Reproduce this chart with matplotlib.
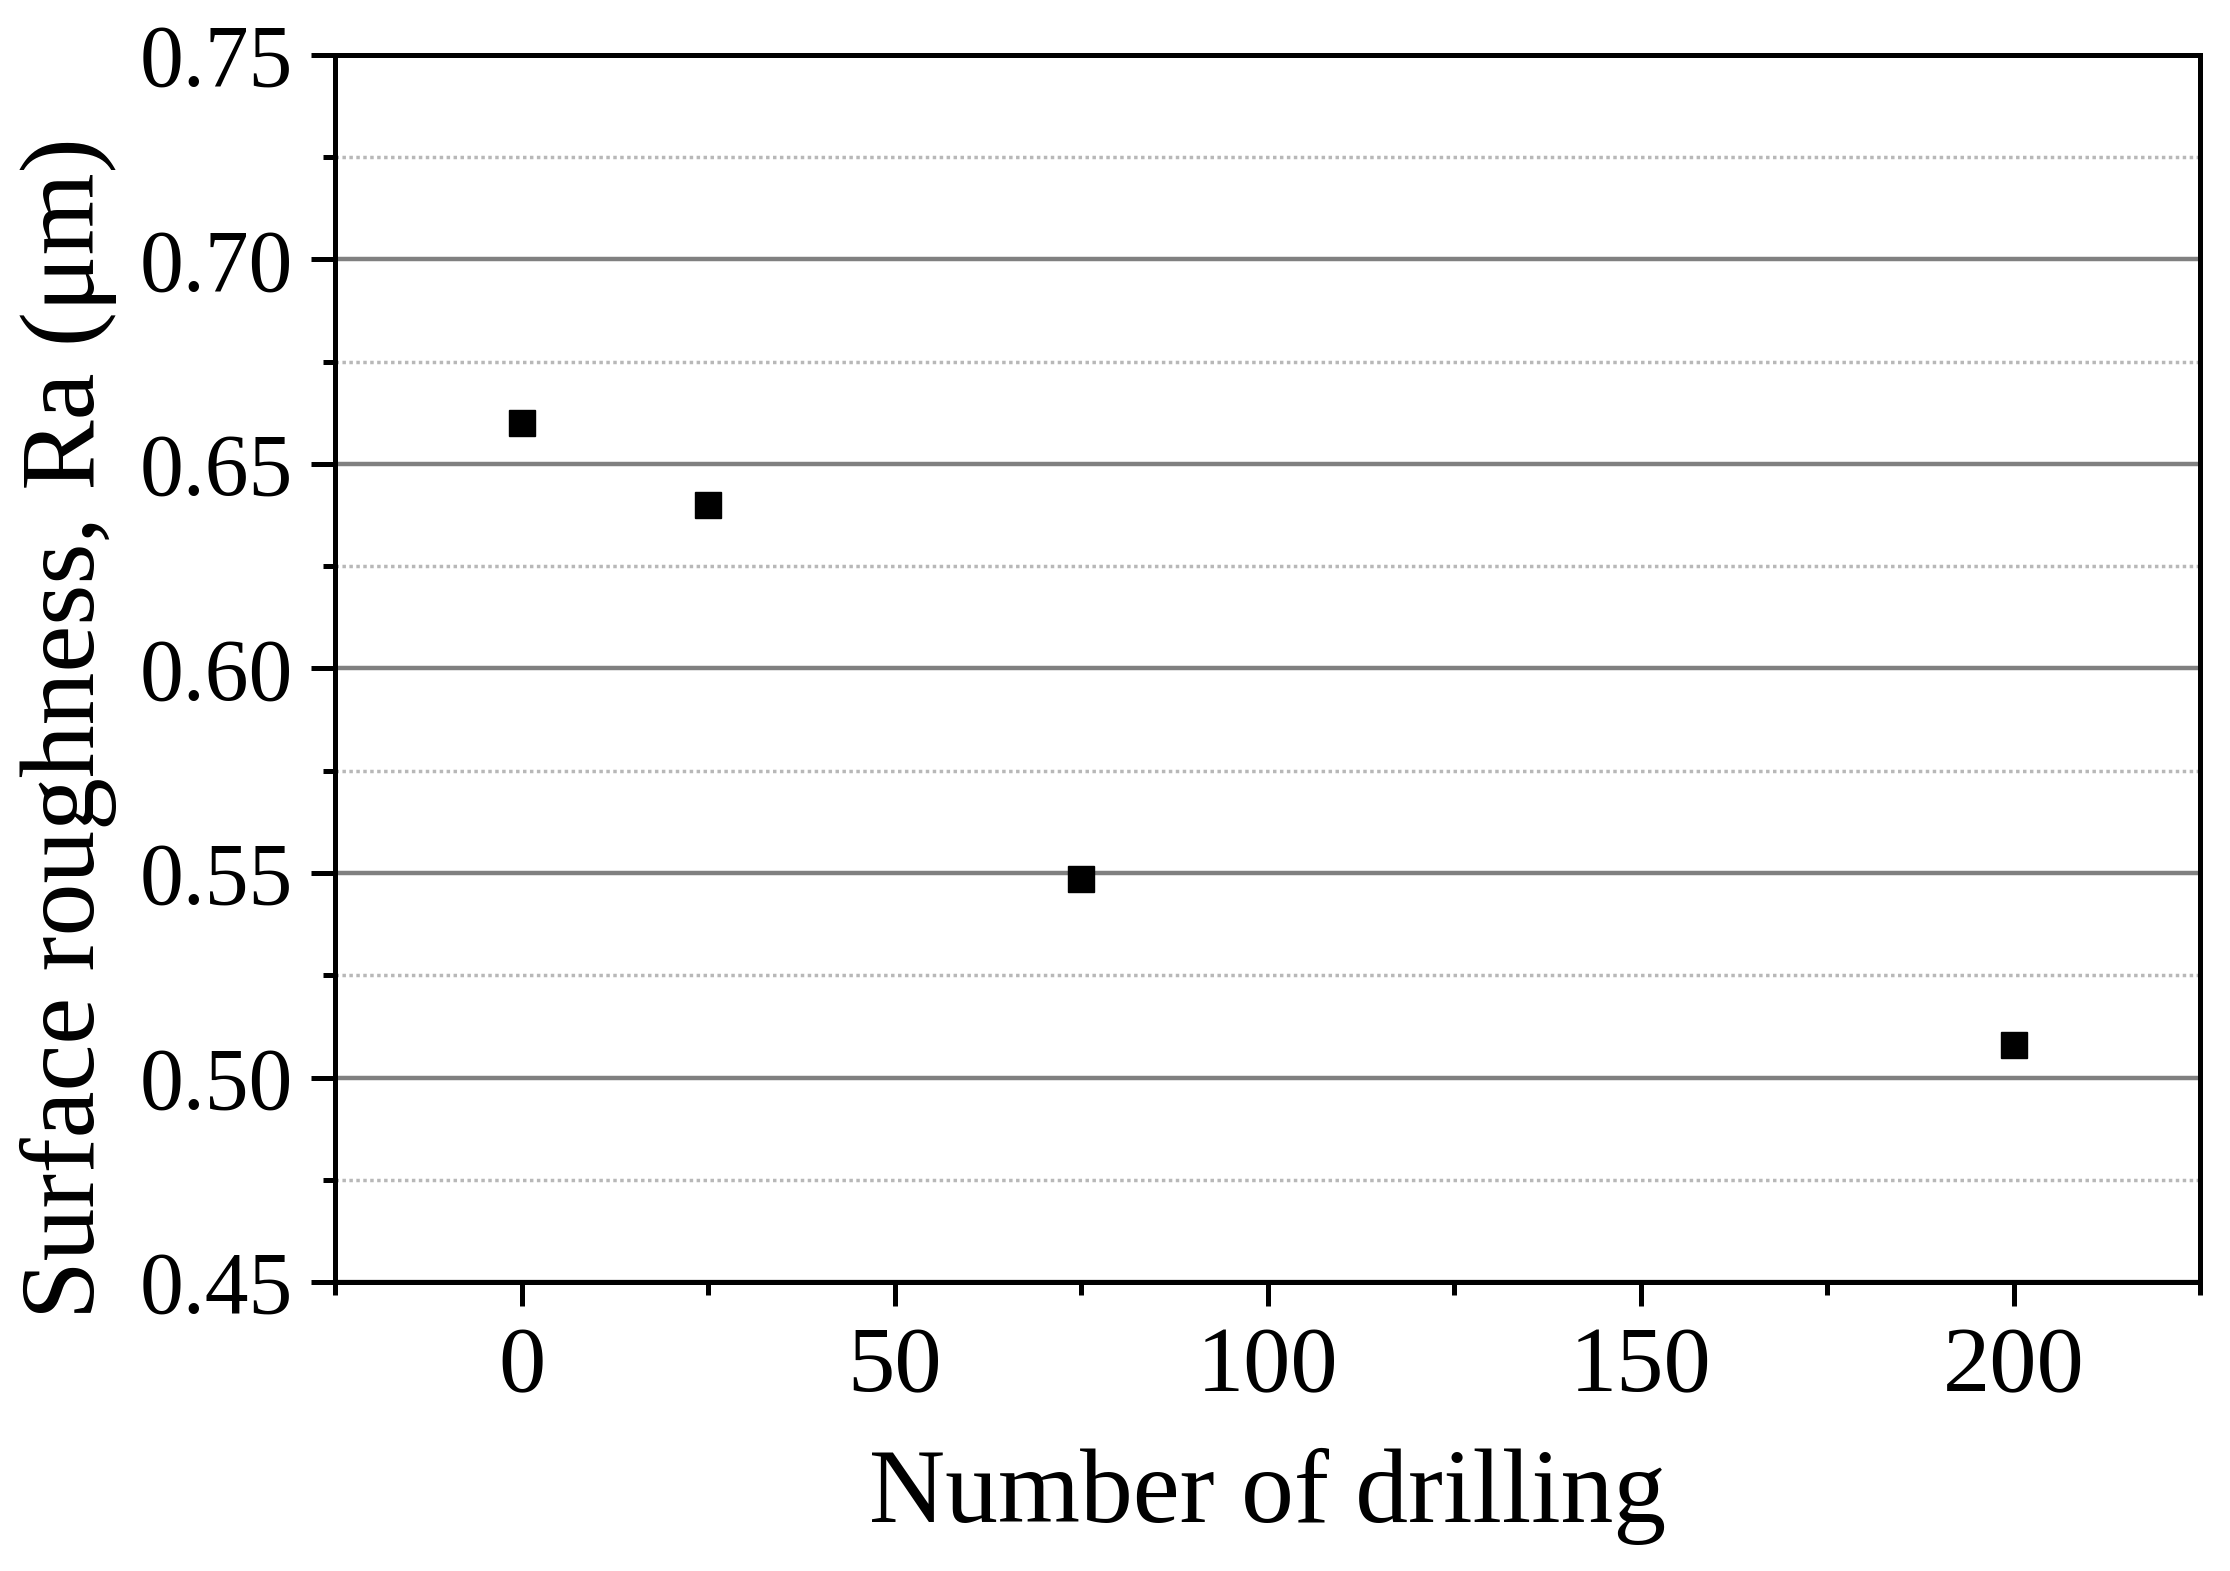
import numpy as np
import matplotlib.pyplot as plt
from matplotlib.ticker import MultipleLocator

# data
drilling = [0, 25, 75, 200]
roughness = [0.660, 0.640, 0.5486, 0.508]

plt.rcParams['font.family'] = ['Liberation Serif', 'DejaVu Serif']

fig = plt.figure(figsize=(22.30, 15.71), dpi=100)
ax = fig.add_axes([335 / 2230, 1 - 1282 / 1571, (2200 - 335) / 2230, (1282 - 55) / 1571])

ax.plot(drilling, roughness, 's', color='black', markersize=19, zorder=3)

ax.set_xlim(-25, 225)
ax.set_ylim(0.45, 0.75)
ax.xaxis.set_major_locator(MultipleLocator(50))
ax.xaxis.set_minor_locator(MultipleLocator(25))
ax.yaxis.set_major_locator(MultipleLocator(0.05))
ax.yaxis.set_minor_locator(MultipleLocator(0.025))
ax.yaxis.set_major_formatter(plt.FormatStrFormatter('%.2f'))

ax.grid(axis='y', which='major', color='#808080', linewidth=3.2, linestyle='-')
ax.grid(axis='y', which='minor', color='#b8b8b8', linewidth=2.5, linestyle=(0, (1, 1)))
ax.set_axisbelow(True)

for sp in ax.spines.values():
    sp.set_linewidth(3.6)
ax.tick_params(which='major', direction='out', length=17, width=3.6)
ax.tick_params(which='minor', direction='out', length=9, width=3.6)
ax.tick_params(axis='x', which='major', labelsize=68, pad=15)
ax.tick_params(axis='y', which='major', labelsize=63, pad=13)
ax.tick_params(top=False, right=False, which='both')

ax.set_xlabel('Number of drilling', fontsize=76, labelpad=26)
ax.set_ylabel('Surface roughness, Ra (\u03bcm)', fontsize=76)
ax.yaxis.set_label_coords(-0.117, 0.451)

fig.savefig('out.png', dpi=100)
